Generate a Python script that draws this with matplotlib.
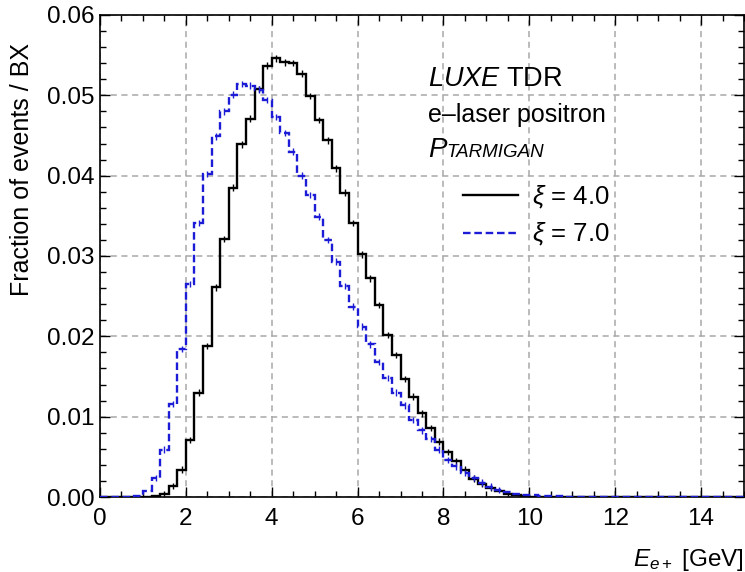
import numpy as np
import matplotlib
matplotlib.use("Agg")
import matplotlib.pyplot as plt
from matplotlib.lines import Line2D
from matplotlib.ticker import MultipleLocator, FormatStrFormatter

plt.rcParams["font.family"] = ["Liberation Sans", "DejaVu Sans"]
plt.rcParams["mathtext.fontset"] = "custom"
plt.rcParams["mathtext.rm"] = "Liberation Sans"
plt.rcParams["mathtext.it"] = "Liberation Sans:italic"

# Positron energy binning [GeV]
bin_edges = np.linspace(0.0, 15.0, 76)

# Fraction of events per BX, xi = 4.0
frac_xi4 = [
    0.00002, 0.00002, 0.00002, 0.00002, 0.00002, 0.00003, 0.0001, 0.0004, 0.0014, 0.0034,
    0.0071, 0.0130, 0.0188, 0.0261, 0.0321, 0.0385, 0.0439, 0.0471, 0.0508, 0.0537,
    0.0546, 0.0541, 0.0540, 0.0527, 0.0499, 0.0469, 0.0444, 0.0409, 0.0379, 0.0341,
    0.0302, 0.0272, 0.0239, 0.0202, 0.0177, 0.0147, 0.0125, 0.0104, 0.0086, 0.0069,
    0.0056, 0.0045, 0.0034, 0.0023, 0.0016, 0.0011, 0.0007, 0.0004, 0.0002, 0.0001,
    0.00006, 0.00004, 0.00002, 0.00001, 0.00001, 0.0, 0.0, 0.0, 0.0, 0.0,
    0.0, 0.0, 0.0, 0.0, 0.0, 0.0, 0.0, 0.0, 0.0, 0.0,
    0.0, 0.0, 0.0, 0.0, 0.0,
]

# Fraction of events per BX, xi = 7.0
frac_xi7 = [
    0.00003, 0.00003, 0.00003, 0.00004, 0.0001, 0.0007, 0.0024, 0.0059, 0.0116, 0.0184,
    0.0265, 0.0341, 0.0402, 0.0449, 0.0480, 0.0501, 0.0514, 0.0512, 0.0507, 0.0494,
    0.0473, 0.0453, 0.0430, 0.0400, 0.0376, 0.0349, 0.0320, 0.0293, 0.0263, 0.0237,
    0.0212, 0.0190, 0.0168, 0.0148, 0.0130, 0.0114, 0.0096, 0.0083, 0.0072, 0.0059,
    0.0046, 0.0038, 0.0030, 0.0024, 0.0018, 0.0013, 0.0009, 0.0006, 0.0004, 0.0003,
    0.0002, 0.00015, 0.0001, 0.00008, 0.00005, 0.00003, 0.00002, 0.00001, 0.0, 0.0,
    0.0, 0.0, 0.0, 0.0, 0.0, 0.0, 0.0, 0.0, 0.0, 0.0,
    0.0, 0.0, 0.0, 0.0, 0.0,
]

# Statistical uncertainty per bin
stat_err = 0.0004

series_labels = [r"$\xi$ = 4.0", r"$\xi$ = 7.0"]
x_ticks = [0, 2, 4, 6, 8, 10, 12, 14]
y_ticks = [0.00, 0.01, 0.02, 0.03, 0.04, 0.05, 0.06]

BLUE = "#1c1cd6"
DASH = (0, (3.2, 1.6))

fig = plt.figure(figsize=(7.45, 5.72), dpi=100)
ax = fig.add_axes([0.1342, 0.1311, 0.8645, 0.8427])

centers = 0.5 * (bin_edges[:-1] + bin_edges[1:])
for vals, color, ls in [(frac_xi4, "black", "-"), (frac_xi7, BLUE, DASH)]:
    v = np.asarray(vals)
    ax.stairs(v, bin_edges, color=color, lw=1.7, linestyle=ls, zorder=3)
    mask = v > 0.0008
    ax.errorbar(centers[mask], v[mask], yerr=stat_err, fmt="none",
                ecolor=color, elinewidth=1.0, capsize=0, zorder=3)

ax.set_xlim(0, 15)
ax.set_ylim(0, 0.06)
ax.set_xticks(x_ticks)
ax.set_yticks(y_ticks)
ax.yaxis.set_major_formatter(FormatStrFormatter("%.2f"))
ax.xaxis.set_minor_locator(MultipleLocator(0.5))
ax.yaxis.set_minor_locator(MultipleLocator(0.002))
ax.tick_params(which="both", direction="in", top=True, right=True,
               labelsize=17.5, colors="black")
ax.tick_params(which="major", length=7, width=1.0)
ax.tick_params(axis="y", which="major", pad=4)
ax.tick_params(axis="x", which="major", pad=8)
ax.tick_params(which="minor", length=4, width=1.0)
for s in ax.spines.values():
    s.set_linewidth(1.2)

ax.grid(True, which="major", color="#a8a8a8", linestyle=(0, (4, 3)), lw=1.1, zorder=0)

ax.set_ylabel("Fraction of events / BX", fontsize=18)
ax.yaxis.set_label_coords(-0.102, 0.68)
ax.set_xlabel(r"$E_{e+}$ [GeV]", fontsize=17.5, loc="right", labelpad=12)

# Annotation block
tx = 0.509
ax.text(tx, 0.8527, r"$\mathit{LUXE}$ TDR", transform=ax.transAxes,
        fontsize=19.5, va="baseline")
ax.text(tx, 0.7786, "e\u2013laser positron", transform=ax.transAxes,
        fontsize=18, va="baseline")
tP = ax.text(tx, 0.7054, "P", transform=ax.transAxes, fontsize=20,
             style="italic", va="baseline")
ax.annotate("TARMIGAN", xy=(1, 0), xycoords=tP, xytext=(0.3, 1.3),
            textcoords="offset points", fontsize=13.5, style="italic",
            ha="left", va="bottom")

handles = [Line2D([], [], color="black", lw=1.7),
           Line2D([], [], color=BLUE, lw=1.7, linestyle=DASH)]
ax.legend(handles, series_labels, loc="upper left", bbox_to_anchor=(0.5637, 0.6496),
          frameon=False, fontsize=18.5, handlelength=2.14, handletextpad=0.55,
          labelspacing=0.4, borderpad=0, borderaxespad=0)

fig.savefig("out.png", dpi=100)
